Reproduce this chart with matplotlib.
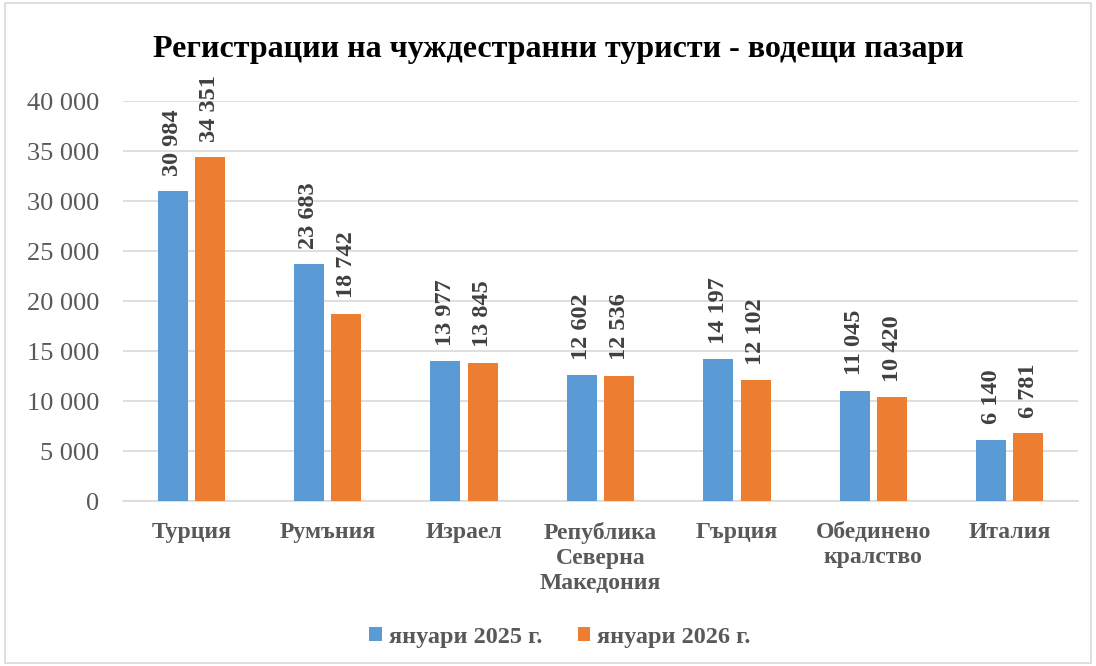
import numpy as np
import matplotlib.pyplot as plt
from matplotlib.ticker import FuncFormatter
from matplotlib.patches import Rectangle

plt.rcParams['font.family'] = ['Liberation Serif', 'DejaVu Serif']

categories = ['Турция', 'Румъния', 'Израел', 'Република\nСеверна\nМакедония',
              'Гърция', 'Обединено\nкралство', 'Италия']
jan_2025 = [30984, 23683, 13977, 12602, 14197, 11045, 6140]
jan_2026 = [34351, 18742, 13845, 12536, 12102, 10420, 6781]
series_names = ['януари 2025 г.', 'януари 2026 г.']
title = 'Регистрации на чуждестранни туристи - водещи пазари'

blue = '#5b9bd5'
orange = '#ed7d31'

fig = plt.figure(figsize=(10.96, 6.66), dpi=100)
ax = fig.add_axes([123/1096, 1 - 501/666, 955/1096, 400/666])

x = np.arange(len(categories))
w = 0.22
off = 0.137
b1 = ax.bar(x - off, jan_2025, w, color=blue, zorder=3, label=series_names[0])
b2 = ax.bar(x + off, jan_2026, w, color=orange, zorder=3, label=series_names[1])

def fmt(v):
    return '{:,}'.format(int(v)).replace(',', ' ')

for bars in (b1, b2):
    for r in bars:
        h = r.get_height()
        ax.annotate(fmt(h), (r.get_x() + r.get_width()/2, h), xytext=(0, 11),
                    textcoords='offset points', rotation=90, ha='center', va='bottom',
                    fontsize=17.5, fontweight='bold', color='#404040')

ax.set_xlim(-0.5, len(categories) - 0.5)
ax.set_ylim(0, 40000)
ax.set_yticks(np.arange(0, 40001, 5000))
ax.yaxis.set_major_formatter(FuncFormatter(lambda v, p: fmt(v)))
ax.grid(axis='y', color='#d9d9d9', linewidth=1.2, zorder=0)
for s in ['top', 'right', 'left']:
    ax.spines[s].set_visible(False)
ax.spines['bottom'].set_color('#d9d9d9')
ax.spines['bottom'].set_linewidth(1.2)
ax.tick_params(axis='both', length=0)
ax.tick_params(axis='y', labelsize=19, labelcolor='#595959', pad=17)
ax.set_xticks(x)
ax.set_xticklabels(categories, fontsize=17, fontweight='bold', color='#595959',
                   linespacing=1.25)
ax.tick_params(axis='x', pad=15)

fig.text(558/1096, 1 - 50/666, title, ha='center', va='center',
         fontsize=23, fontweight='bold', color='black')

fig.legend(handles=[b1, b2], labels=series_names, loc='center',
           bbox_to_anchor=(560/1096, 1 - 637/666), ncol=2, frameon=False,
           prop={'size': 17.5, 'weight': 'bold'}, handlelength=0.5, handleheight=0.5,
           handletextpad=0.3, columnspacing=1.45, labelcolor='#595959')

fig.patches.append(Rectangle((0.005, 0.005), 0.99, 0.99, transform=fig.transFigure,
                             fill=False, edgecolor='#d9d9d9', linewidth=1.2))

fig.savefig('out.png', dpi=100)
